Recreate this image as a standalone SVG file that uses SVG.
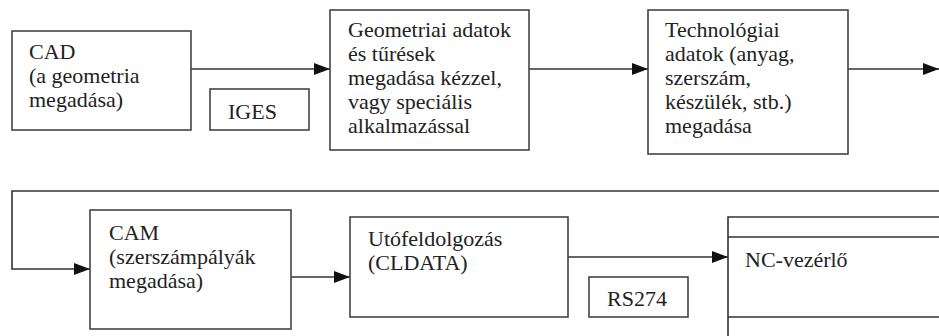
<svg xmlns="http://www.w3.org/2000/svg" width="939" height="336" viewBox="0 0 939 336">
<defs>
<marker id="arr" viewBox="0 0 16 12" refX="16" refY="6" markerWidth="16" markerHeight="12" markerUnits="userSpaceOnUse" orient="auto">
<path d="M0,0 L16,6 L0,12 Z" fill="#111"/>
</marker>
<style>
.box{fill:#fff;stroke:#444;stroke-width:1.6}
.ln{fill:none;stroke:#333;stroke-width:1.6}
.t{font-family:'Liberation Serif','Times New Roman',serif;font-size:22px;fill:#222}
</style>
</defs>
<rect width="939" height="336" fill="#fff"/>
<g id="connectors">
<line class="ln" x1="191" y1="69" x2="330" y2="69" marker-end="url(#arr)"/>
<line class="ln" x1="529" y1="69" x2="648" y2="69" marker-end="url(#arr)"/>
<line class="ln" x1="848" y1="69" x2="939" y2="69" marker-end="url(#arr)"/>
<polyline class="ln" points="939,191 12,191 12,269 90,269" marker-end="url(#arr)"/>
<line class="ln" x1="291" y1="277" x2="350" y2="277" marker-end="url(#arr)"/>
<line class="ln" x1="568" y1="257" x2="728" y2="257" marker-end="url(#arr)"/>
</g>
<g id="cad">
<rect class="box" x="12" y="31" width="179" height="99"/>
<text class="t" x="29" y="59">CAD</text>
<text class="t" x="29" y="83">(a geometria</text>
<text class="t" x="29" y="107">megadása)</text>
</g>
<g id="iges">
<rect class="box" x="210" y="89" width="99" height="41"/>
<text class="t" x="228" y="119">IGES</text>
</g>
<g id="geom">
<rect class="box" x="330" y="10" width="199" height="140"/>
<text class="t" x="348" y="37">Geometriai adatok</text>
<text class="t" x="348" y="61">és tűrések</text>
<text class="t" x="348" y="85">megadása kézzel,</text>
<text class="t" x="348" y="109">vagy speciális</text>
<text class="t" x="348" y="133">alkalmazással</text>
</g>
<g id="tech">
<rect class="box" x="648" y="10" width="200" height="144"/>
<text class="t" x="665" y="37">Technológiai</text>
<text class="t" x="665" y="61">adatok (anyag,</text>
<text class="t" x="665" y="85">szerszám,</text>
<text class="t" x="665" y="109">készülék, stb.)</text>
<text class="t" x="665" y="133">megadása</text>
</g>
<g id="cam">
<rect class="box" x="90" y="210" width="201" height="119"/>
<text class="t" x="109" y="240">CAM</text>
<text class="t" x="109" y="264">(szerszámpályák</text>
<text class="t" x="109" y="288">megadása)</text>
</g>
<g id="post">
<rect class="box" x="350" y="217" width="218" height="100"/>
<text class="t" x="368" y="246">Utófeldolgozás</text>
<text class="t" x="368" y="270">(CLDATA)</text>
</g>
<g id="rs274">
<rect class="box" x="589" y="277" width="99" height="40"/>
<text class="t" x="607" y="306">RS274</text>
</g>
<g id="nc">
<path class="ln" d="M939,217 H728 V336 M728,237 H939 M728,317 H939"/>
<text class="t" x="745" y="267">NC-vezérlő</text>
</g>
</svg>
